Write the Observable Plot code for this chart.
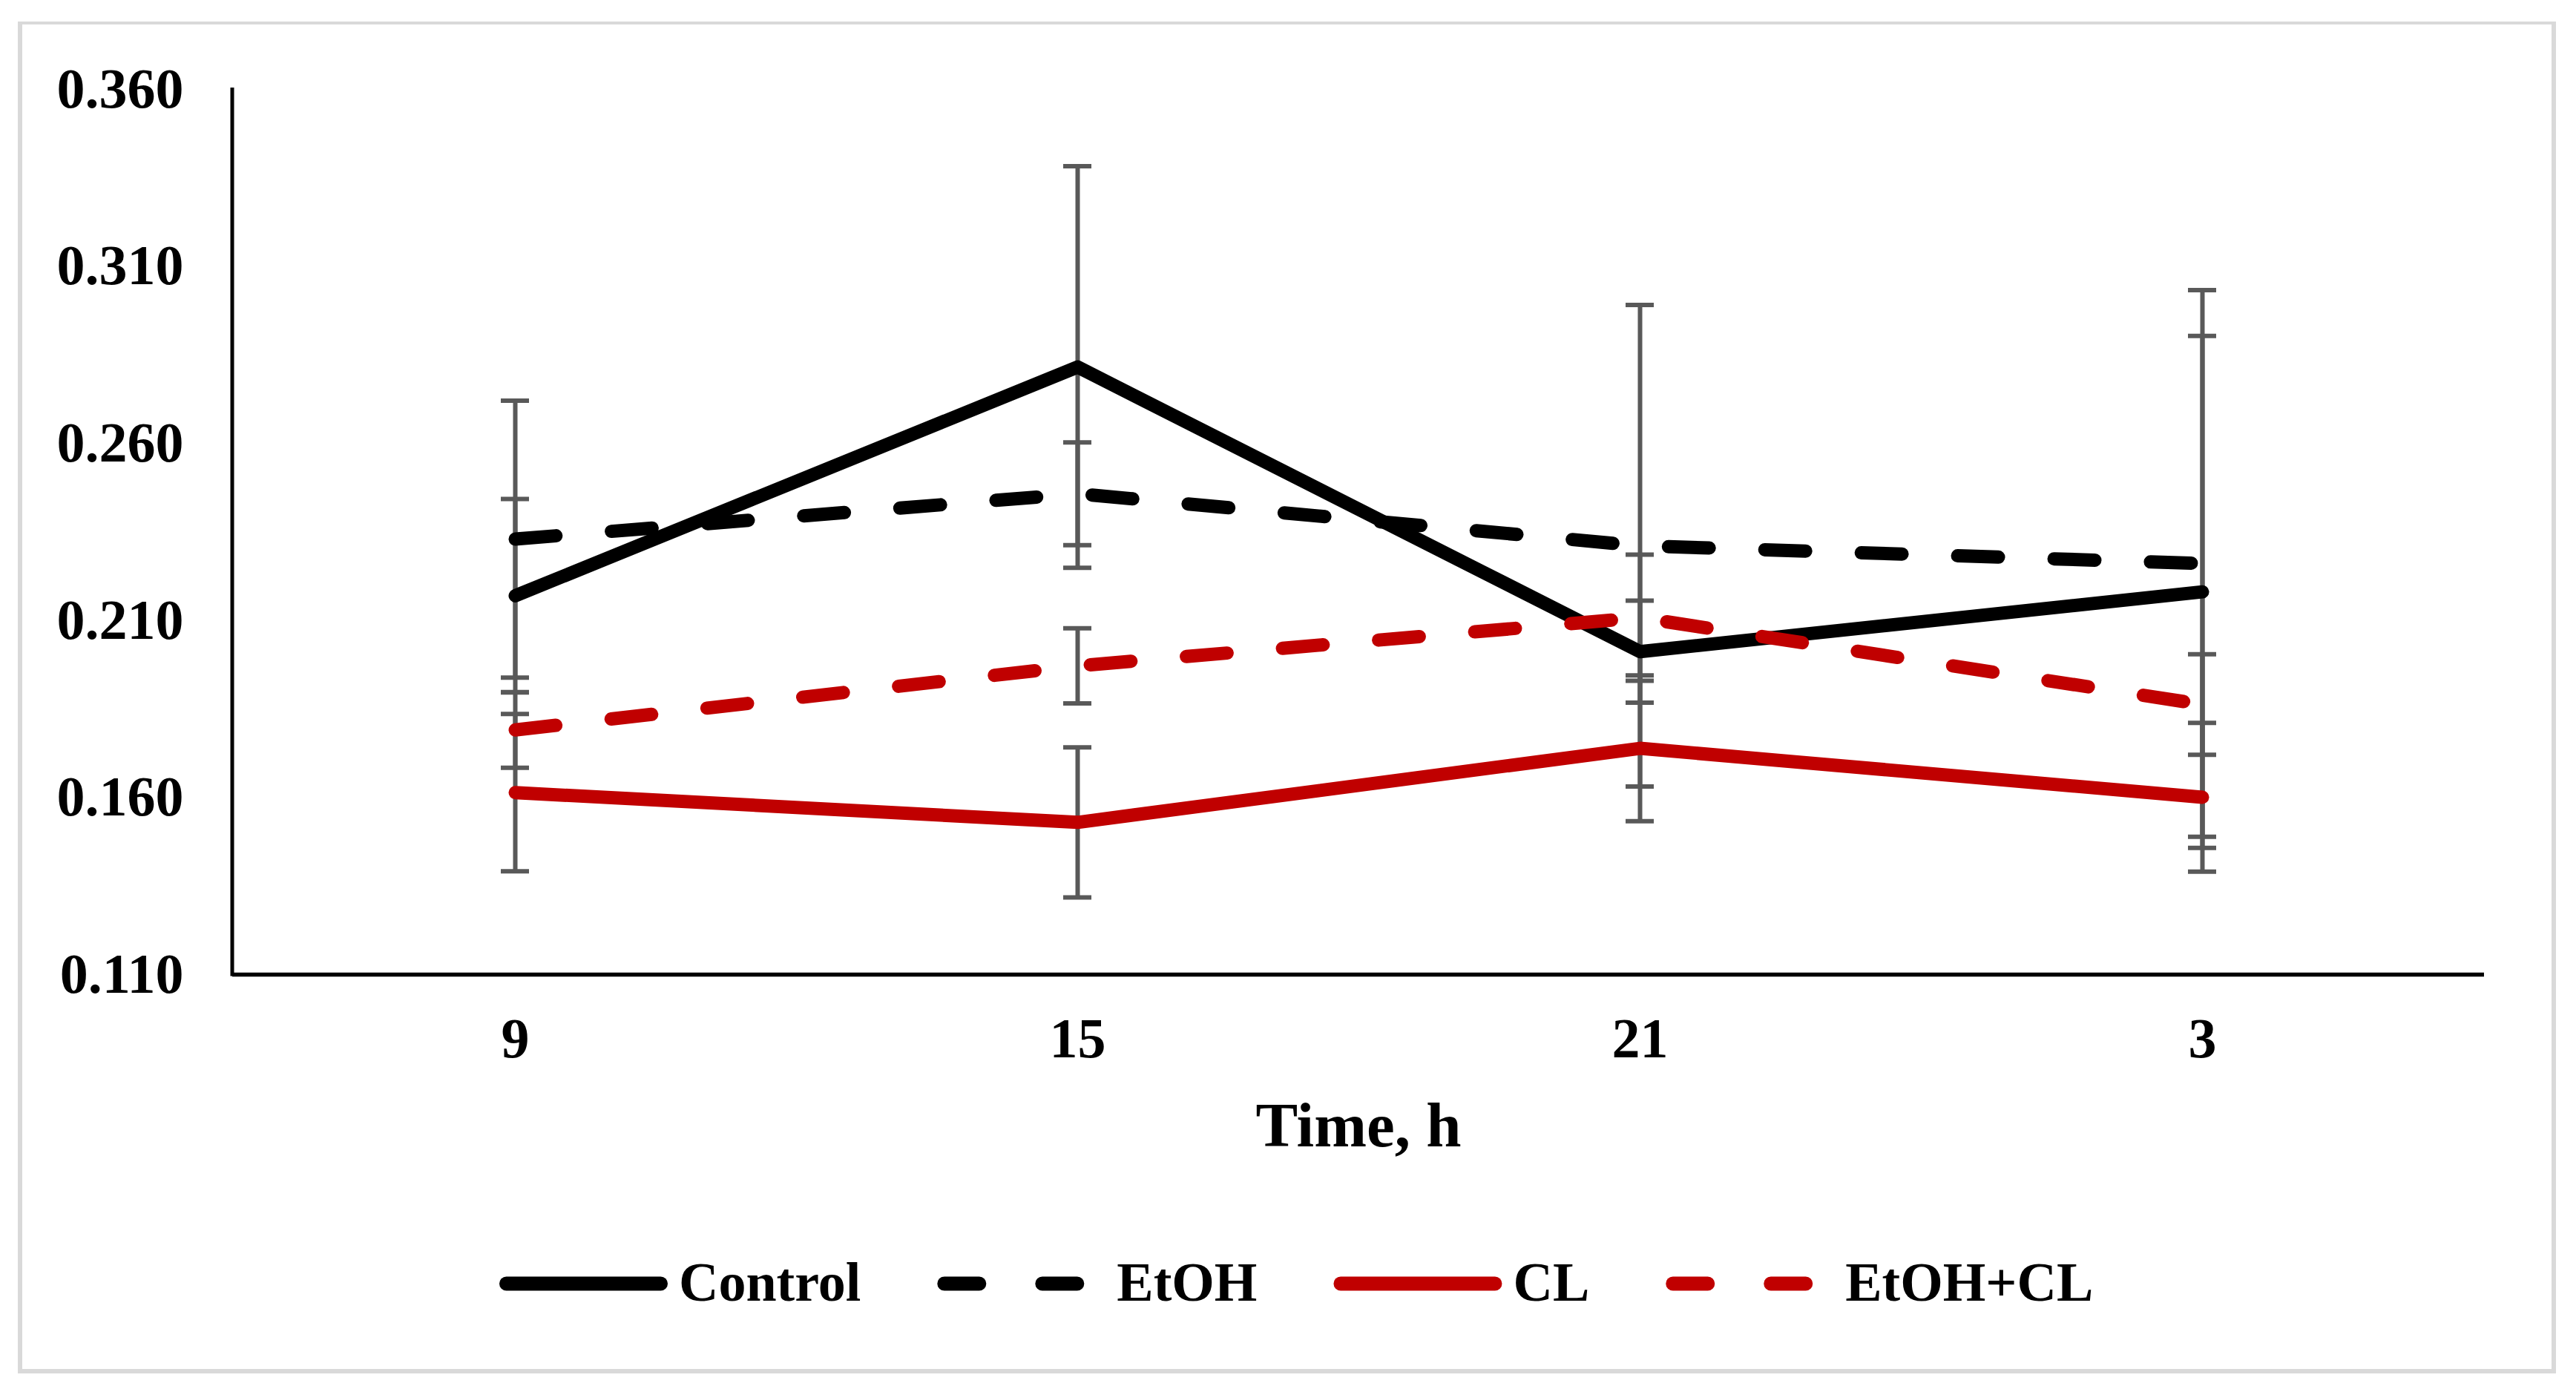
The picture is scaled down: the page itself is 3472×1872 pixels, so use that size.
<!DOCTYPE html>
<html>
<head>
<meta charset="utf-8">
<script src="https://cdn.jsdelivr.net/npm/d3@7"></script>
<script src="https://cdn.jsdelivr.net/npm/@observablehq/plot@0.6"></script>
<style>
  html, body { margin: 0; padding: 0; background: #fff; }
  #wrap { position: relative; width: 3472px; height: 1872px; overflow: hidden; background: #fff; }
  #border { position: absolute; left: 24px; top: 29px; width: 3421px; height: 1822px; border-style: solid; border-color: #d9d9d9; border-width: 4px 6px 6px 6px; box-sizing: border-box; }
  #chart { position: absolute; left: 0; top: 0; }
  #legend { position: absolute; left: 0; top: 0; }
</style>
</head>
<body>
<div id="wrap">
  <div id="border"></div>
  <div id="chart"></div>
  <svg id="legend" width="3472" height="1872"></svg>
</div>
<script>
// ---- data ----
const times = ["9", "15", "21", "3"];
const seriesNames = ["Control", "EtOH", "CL", "EtOH+CL"];
const controlMean = [0.2170, 0.2816, 0.2012, 0.2181];
const controlErr  = [0.0273, 0.0567, 0.0144, 0.0723];
const etohMean    = [0.2330, 0.2458, 0.2311, 0.2261];
const etohErr     = [0.0391, 0.0145, 0.0680, 0.0772];
const clMean      = [0.1614, 0.1530, 0.1739, 0.1601];
const clErr       = [0.0222, 0.0212, 0.0206, 0.0210];
const etohClMean  = [0.1791, 0.1972, 0.2108, 0.1863];
const etohClErr   = [0.0107, 0.0106, 0.0178, 0.0142];
const yTicks = [0.110, 0.160, 0.210, 0.260, 0.310, 0.360];
const xLabel = "Time, h";

// ---- styles ----
const means = [controlMean, etohMean, clMean, etohClMean];
const errs = [controlErr, etohErr, clErr, etohClErr];
const colors = ["#000000", "#000000", "#C00000", "#C00000"];
const dashed = [false, true, false, true];
const FONT = "'Liberation Serif', 'Times New Roman', serif";

const rows = [];
const caps = [];
seriesNames.forEach((s, si) => {
  times.forEach((t, ti) => {
    const v = means[si][ti], e = errs[si][ti];
    rows.push({series: s, t, v, lo: v - e, hi: v + e});
    caps.push({series: s, t, y: v - e});
    caps.push({series: s, t, y: v + e});
  });
});

function yAxisLine(index, scales, values, dims) {
  const ns = "http://www.w3.org/2000/svg";
  const l = document.createElementNS(ns, "line");
  const x = dims.marginLeft;
  l.setAttribute("x1", x); l.setAttribute("x2", x);
  l.setAttribute("y1", scales.y(yTicks[yTicks.length - 1]) - 2);
  l.setAttribute("y2", scales.y(yTicks[0]) + 2.5);
  l.setAttribute("stroke", "#000");
  l.setAttribute("stroke-width", 5);
  return l;
}

const lineMarks = seriesNames.map((s, si) =>
  Plot.line(rows.filter(r => r.series === s), {
    x: "t", y: "v",
    stroke: colors[si], strokeWidth: 18,
    strokeLinecap: "round", strokeLinejoin: "round",
    strokeDasharray: dashed[si] ? "55,75" : null
  })
);

const plot = Plot.plot({
  width: 3472,
  height: 1600,
  marginLeft: 313,
  marginRight: 124,
  marginTop: 120,
  marginBottom: 287,
  style: {fontFamily: FONT, fontSize: "76px", fontWeight: "bold", color: "#000", background: "transparent", overflow: "visible"},
  x: {type: "point", domain: times, padding: 0.5},
  y: {domain: [0.11, 0.36]},
  marks: [
    Plot.axisY({ticks: yTicks, tickFormat: d3.format(".3f"), tickSize: 0, tickPadding: 66, label: null, fontSize: 76}),
    Plot.axisX({tickSize: 0, tickPadding: 58, label: null, fontSize: 76}),
    Plot.ruleX(rows, {x: "t", y1: "lo", y2: "hi", stroke: "#595959", strokeWidth: 6}),
    Plot.ruleY(caps, {x1: "t", x2: "t", y: "y", stroke: "#595959", strokeWidth: 6, insetLeft: -19, insetRight: -19}),
    Plot.ruleY([yTicks[0]], {stroke: "#000", strokeWidth: 5.5}),
    yAxisLine,
    ...lineMarks,
    Plot.text([xLabel], {text: d => d, frameAnchor: "bottom", dy: 204, fontSize: 85, lineAnchor: "middle", fill: "#000"})
  ]
});
document.getElementById("chart").appendChild(plot);

// ---- legend ----
const ns = "http://www.w3.org/2000/svg";
const leg = document.getElementById("legend");
const legY = 1730;
let cx = 673;
const swatchW = 227, swatchGap = 15, itemGap = 103;
seriesNames.forEach((s, si) => {
  const ln = document.createElementNS(ns, "line");
  ln.setAttribute("x1", cx + 9.5);
  ln.setAttribute("x2", cx + swatchW - 9.5);
  ln.setAttribute("y1", legY); ln.setAttribute("y2", legY);
  ln.setAttribute("stroke", colors[si]);
  ln.setAttribute("stroke-width", 19);
  ln.setAttribute("stroke-linecap", "round");
  if (dashed[si]) ln.setAttribute("stroke-dasharray", "47,85");
  leg.appendChild(ln);
  const tx = document.createElementNS(ns, "text");
  tx.setAttribute("x", cx + swatchW + swatchGap);
  tx.setAttribute("y", legY + 23);
  tx.setAttribute("font-family", FONT);
  tx.setAttribute("font-size", 74);
  tx.setAttribute("font-weight", "bold");
  tx.setAttribute("fill", "#000");
  tx.textContent = s;
  leg.appendChild(tx);
  const w = tx.getComputedTextLength();
  cx = cx + swatchW + swatchGap + w + itemGap;
});
</script>
</body>
</html>
